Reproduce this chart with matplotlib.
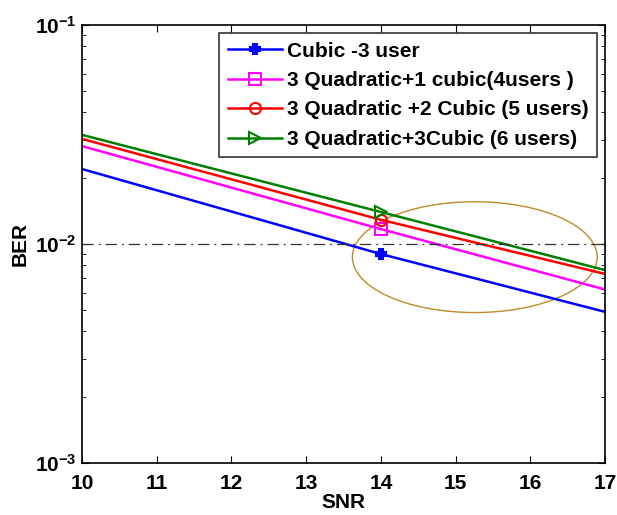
import matplotlib
matplotlib.use('Agg')
import matplotlib.pyplot as plt
from matplotlib.patches import Ellipse
from matplotlib.ticker import LogLocator, NullFormatter

plt.rcParams['font.family'] = ['Liberation Sans', 'DejaVu Sans']
plt.rcParams['font.weight'] = 'bold'
plt.rcParams['mathtext.fontset'] = 'custom'
plt.rcParams['mathtext.rm'] = 'Liberation Sans:bold'
plt.rcParams['mathtext.bf'] = 'Liberation Sans:bold'
plt.rcParams['mathtext.default'] = 'bf'

snr = [10, 14, 17]
ber_cubic3 = [0.0220, 0.0090, 0.0049]
ber_4users = [0.0280, 0.0117, 0.0062]
ber_5users = [0.0302, 0.0129, 0.0073]
ber_6users = [0.0315, 0.0140, 0.0076]
labels = ['Cubic -3 user',
          '3 Quadratic+1 cubic(4users )',
          '3 Quadratic +2 Cubic (5 users)',
          '3 Quadratic+3Cubic (6 users)']
ref_ber = 1e-2
yticks = [1e-3, 1e-2, 1e-1]
ytick_labels = ['$10^{-3}$', '$10^{-2}$', '$10^{-1}$']

fig = plt.figure(figsize=(6.17, 5.15), dpi=100)
ax = fig.add_axes([82/617, 1-463/515, 523/617, 438/515])

series = [(ber_cubic3, 'blue', 'P'), (ber_4users, 'magenta', 's'),
          (ber_5users, 'red', 'o'), (ber_6users, 'green', '>')]
for (vals, col, mk), lab in zip(series, labels):
    ax.semilogy(snr, vals, color=col, lw=1.8, marker=mk, markersize=8 if mk != 'P' else 7,
                markevery=[1], markerfacecolor='none' if mk != 'P' else col,
                markeredgecolor=col, markeredgewidth=1.5, label=lab)

ax.plot([snr[0], snr[-1]], [ref_ber, ref_ber], color='#333333', lw=0.9, ls=(0, (9, 4, 1.5, 4)))

# circle round the 14 dB region
ell = Ellipse((0.751, 0.470), 0.468, 0.253, transform=ax.transAxes,
              fill=False, edgecolor='#c08a2a', lw=1.0)
ax.add_patch(ell)

ax.set_xlim(10, 17)
ax.set_ylim(1e-3, 1e-1)
ax.set_xticks(range(10, 18))
ax.set_yticks(yticks)
ax.set_yticklabels(ytick_labels)
ax.yaxis.set_minor_locator(LogLocator(base=10, subs=range(2, 10), numticks=20))
ax.yaxis.set_minor_formatter(NullFormatter())
ax.tick_params(which='both', direction='in', top=True, right=True, labelsize=15)
ax.tick_params(axis='x', pad=8)
ax.tick_params(axis='y', pad=4)
ax.tick_params(which='major', length=5)
ax.tick_params(which='minor', length=3)
for s in ax.spines.values():
    s.set_linewidth(1.2)

ax.set_xlabel('SNR', fontsize=15, fontweight='bold', labelpad=0)
ax.set_ylabel('BER', fontsize=15, fontweight='bold', labelpad=4)

leg = ax.legend(loc='upper right', fontsize=15, frameon=True, fancybox=False,
                edgecolor='black', handlelength=2.6, handletextpad=0.25,
                borderpad=0.4, labelspacing=0.5, borderaxespad=0,
                bbox_to_anchor=(0.985, 0.981))
leg.get_frame().set_linewidth(1.2)
for t in leg.get_texts():
    t.set_fontweight('bold')

fig.savefig('out.png', dpi=100)
